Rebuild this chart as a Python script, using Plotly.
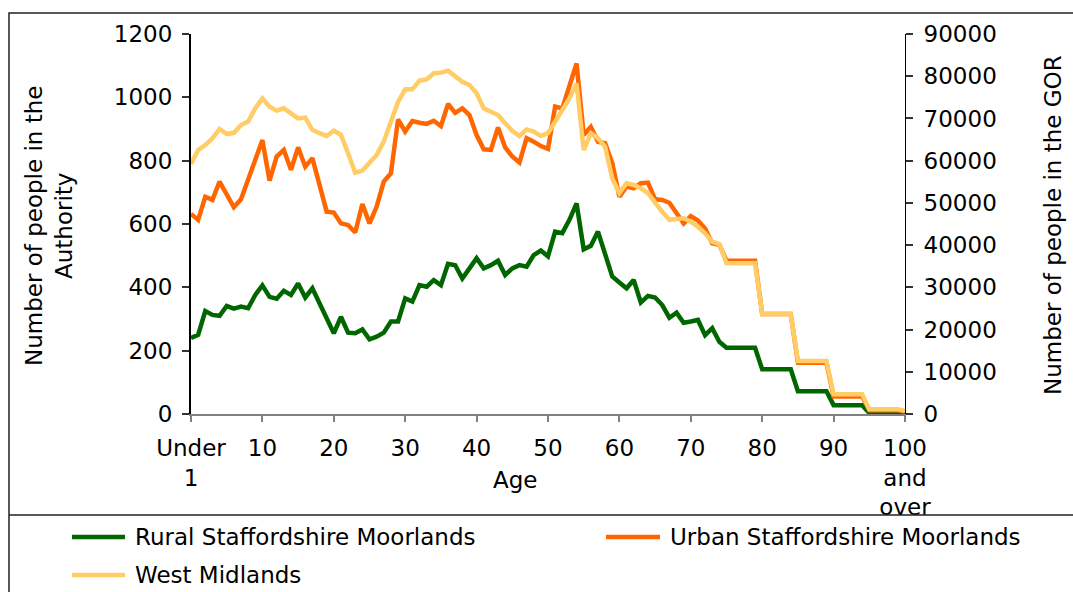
import plotly.graph_objects as go

# ---------------- data ----------------
ages = list(range(101))
tick_vals = [0, 10, 20, 30, 40, 50, 60, 70, 80, 90, 100]
tick_text = ["Under<br>1", "10", "20", "30", "40", "50", "60", "70", "80", "90", "100<br>and<br>over"]

rural = [240, 250, 325, 313, 310, 341, 333, 339, 334, 376,
         406, 370, 364, 389, 376, 412, 368, 397, 350, 302,
         255, 307, 257, 255, 267, 236, 244, 257, 292, 292,
         365, 355, 407, 402, 423, 407, 474, 470, 428, 460,
         492, 460, 470, 484, 439, 460, 470, 465, 502, 516,
         498, 576, 571, 613, 665, 520, 531, 576, 507, 434,
         415, 397, 423, 352, 373, 368, 344, 304, 320, 288,
         292, 297, 249, 271, 228, 209, 209, 209, 209, 209,
         141, 141, 141, 141, 141, 72, 72, 72, 72, 72,
         28, 28, 28, 28, 28, 3, 3, 3, 3, 3,
         1]

urban = [632, 613, 686, 676, 734, 692, 653, 678, 739, 797,
         865, 737, 813, 834, 771, 842, 781, 808, 718, 639,
         636, 602, 597, 573, 663, 602, 655, 734, 760, 930,
         892, 925, 920, 916, 926, 909, 979, 951, 965, 944,
         881, 836, 834, 905, 842, 813, 794, 871, 860, 846,
         837, 971, 965, 1039, 1107, 881, 907, 860, 855, 792,
         686, 718, 713, 729, 731, 678, 676, 667, 634, 602,
         625, 611, 586, 539, 534, 484, 484, 484, 484, 484,
         316, 316, 316, 316, 316, 162, 162, 162, 162, 162,
         55, 55, 55, 55, 55, 12, 12, 12, 12, 12,
         8]

west_midlands = [59200, 62500, 63700, 65300, 67500, 66300, 66600, 68450, 69250, 72400,
                 74750, 72800, 71850, 72400, 71200, 70000, 70200, 67300, 66500, 65850,
                 67100, 66100, 61750, 57150, 57650, 59350, 61350, 64500, 69250, 73950,
                 76900, 76900, 78950, 79250, 80700, 80850, 81300, 80050, 78700, 77900,
                 75950, 72400, 71600, 70800, 68850, 67100, 65850, 67400, 66900, 65850,
                 66500, 69200, 71600, 74750, 78300, 62500, 66500, 65300, 63300, 55800,
                 52300, 54650, 54250, 53450, 52300, 49900, 47900, 46000, 46100, 46350,
                 45550, 44350, 42800, 40800, 40250, 35700, 35700, 35700, 35700, 35700,
                 23700, 23700, 23700, 23700, 23700, 12550, 12550, 12550, 12550, 12550,
                 4650, 4650, 4650, 4650, 4650, 1100, 1100, 1100, 1100, 1100,
                 780]

series_names = ["Rural Staffordshire Moorlands", "Urban Staffordshire Moorlands", "West Midlands"]
colors = ["#006600", "#FF6600", "#FFCC66"]

FONT = "DejaVu Sans"
FS = 23

# ---------------- figure ----------------
W, H = 1073, 592
L, R, T, B = 191, 168, 34, 178
PW, PH = W - L - R, H - T - B


def px(xp):
    return (xp - L) / PW


def py(yp):
    return (H - B - yp) / PH


fig = go.Figure()
fig.add_trace(go.Scatter(x=ages, y=rural, mode="lines", name=series_names[0],
                         line=dict(color=colors[0], width=4.5), yaxis="y"))
fig.add_trace(go.Scatter(x=ages, y=urban, mode="lines", name=series_names[1],
                         line=dict(color=colors[1], width=4.5), yaxis="y"))
fig.add_trace(go.Scatter(x=ages, y=west_midlands, mode="lines", name=series_names[2],
                         line=dict(color=colors[2], width=4.5), yaxis="y2"))

axis_font = dict(family=FONT, size=FS, color="black")

fig.update_layout(
    width=W, height=H,
    margin=dict(l=L, r=R, t=T, b=B, pad=0),
    paper_bgcolor="white", plot_bgcolor="white",
    showlegend=False,
    font=dict(family=FONT, size=FS, color="black"),
    xaxis=dict(range=[0, 100], tickmode="array", tickvals=tick_vals, ticktext=tick_text,
               showgrid=False, zeroline=False, showline=True, linecolor="#808080", linewidth=2,
               ticks="outside", ticklen=6, tickcolor="#808080", tickwidth=1.5,
               tickfont=axis_font, tickangle=0, ticklabelstandoff=6),
    yaxis=dict(range=[0, 1200], dtick=200, showgrid=False, zeroline=False,
               showline=True, linecolor="black", linewidth=2,
               ticks="outside", ticklen=7, tickcolor="#333333", tickwidth=1.5,
               tickfont=axis_font, ticklabelstandoff=5, tickformat="d"),
    yaxis2=dict(range=[0, 90000], dtick=10000, overlaying="y", side="right", anchor="x",
                showgrid=False, zeroline=False, showline=True, linecolor="black", linewidth=1,
                ticks="outside", ticklen=7, tickcolor="#333333", tickwidth=1.5,
                tickfont=axis_font, ticklabelstandoff=6, tickformat="d"),
    yaxis3=dict(range=[0, 1200], dtick=200, overlaying="y", side="left", anchor="x",
                showgrid=False, zeroline=False, showline=False, showticklabels=False,
                ticks="inside", ticklen=6, tickcolor="#333333", tickwidth=1.5),
    yaxis4=dict(range=[0, 90000], dtick=10000, overlaying="y", side="right", anchor="x",
                showgrid=False, zeroline=False, showline=False, showticklabels=False,
                ticks="inside", ticklen=6, tickcolor="#333333", tickwidth=1.5),
)

# outer border and legend separator
border_col = "#222222"
fig.add_shape(type="rect", xref="paper", yref="paper",
              x0=px(9), x1=px(1090), y0=py(610), y1=py(13),
              line=dict(color=border_col, width=1.5), layer="below")
fig.add_shape(type="line", xref="paper", yref="paper",
              x0=px(9), x1=px(1090), y0=py(515), y1=py(515),
              line=dict(color=border_col, width=1.5))

# axis titles
fig.add_annotation(text="Number of people in the<br>Authority", xref="paper", yref="paper",
                   x=px(49), y=py(226), textangle=-90, showarrow=False,
                   xanchor="center", yanchor="middle", font=dict(family=FONT, size=FS))
fig.add_annotation(text="Number of people in the GOR", xref="paper", yref="paper",
                   x=px(1053), y=py(225), textangle=-90, showarrow=False,
                   xanchor="center", yanchor="middle", font=dict(family=FONT, size=FS))
fig.add_annotation(text="Age", xref="paper", yref="paper",
                   x=px(515), y=py(480), showarrow=False,
                   xanchor="center", yanchor="middle", font=dict(family=FONT, size=FS))

# legend (manual, to match layout)
legend_items = [(72, 125, 537, 133), (606, 660, 537, 668), (72, 125, 575, 133)]
for (lx0, lx1, ly, tx), name, col in zip(legend_items, series_names, colors):
    fig.add_shape(type="line", xref="paper", yref="paper",
                  x0=px(lx0), x1=px(lx1), y0=py(ly), y1=py(ly),
                  line=dict(color=col, width=4.5))
    fig.add_annotation(text=name, xref="paper", yref="paper", x=px(tx), y=py(ly),
                       showarrow=False, xanchor="left", yanchor="middle",
                       font=dict(family=FONT, size=FS))

fig.write_html("out.html", config={"displayModeBar": False},
               post_script="document.body.style.margin='0';")
